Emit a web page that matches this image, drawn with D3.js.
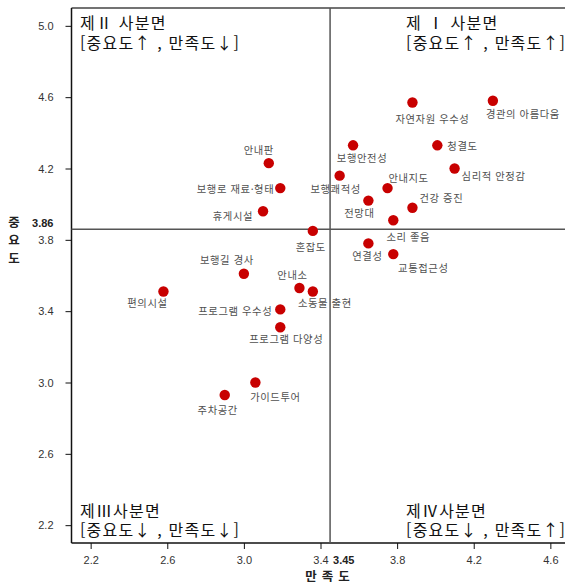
<!DOCTYPE html>
<html lang="ko">
<head>
<meta charset="utf-8">
<title>IPA 분석</title>
<script src="https://cdn.jsdelivr.net/npm/d3@7"></script>
<style>
    body { margin: 0; background: #fff; }
    .tick text { font-family: "Liberation Sans", Arial, sans-serif; font-size: 11px; fill: #333; }
    .lbl { font-family: "Noto Sans CJK KR", sans-serif; font-size: 10.3px; fill: #505050; letter-spacing: 0.6px; }
    .quad { font-family: "Noto Sans CJK KR", sans-serif; font-size: 16px; fill: #111; letter-spacing: 1.2px; }
    .ttl { font-family: "Noto Sans CJK KR", sans-serif; font-size: 12.5px; fill: #222; font-weight: bold; }
</style>
</head>
<body>
<svg></svg>
<script>
    // 항목별 만족도 / 중요도
    var items = ['자연자원 우수성', '경관의 아름다움', '청결도', '심리적 안정감', '안내지도', '건강 증진',
        '소리 좋음', '전망대', '보행안전성', '보행쾌적성', '안내판', '보행로 재료·형태', '휴게시설', '혼잡도',
        '연결성', '교통접근성', '보행길 경사', '편의시설', '안내소', '소동물 출현', '프로그램 우수성',
        '프로그램 다양성', '가이드투어', '주차공간'];
    var satisfaction = [3.88, 4.30, 4.01, 4.10, 3.75, 3.88, 3.78, 3.65, 3.57, 3.50, 3.13, 3.19, 3.10, 3.36,
        3.65, 3.78, 3.00, 2.58, 3.29, 3.36, 3.19, 3.19, 3.06, 2.90];
    var importance = [4.57, 4.58, 4.33, 4.20, 4.09, 3.98, 3.91, 4.02, 4.33, 4.16, 4.23, 4.09, 3.96, 3.85,
        3.78, 3.72, 3.61, 3.51, 3.53, 3.51, 3.41, 3.31, 3.00, 2.93];
    var meanX = 3.45, meanY = 3.86;
    var xTicks = [2.2, 2.6, 3.0, 3.4, 3.8, 4.2, 4.6];
    var yTicks = [2.2, 2.6, 3.0, 3.4, 3.8, 4.2, 4.6, 5.0];
    var quadrants = [
        {name: '제 Ⅰ 사분면', sub: '[중요도↑ , 만족도↑]'},
        {name: '제Ⅱ 사분면', sub: '[중요도↑ , 만족도↓]'},
        {name: '제Ⅲ사분면', sub: '[중요도↓ , 만족도↓]'},
        {name: '제Ⅳ사분면', sub: '[중요도↓ , 만족도↑]'}
    ];

    // label placement relative to the point: dx, dy (px), anchor
    var labelAt = [[20, 17, 'middle'], [30, 14, 'middle'], [10, 1, 'start'], [7, 8, 'start'], [21, -10, 'middle'],
        [7, -9, 'start'], [15, 17, 'middle'], [-9, 13, 'middle'], [9, 13, 'middle'], [-4, 14, 'middle'],
        [-10, -13, 'middle'], [-6, 1, 'end'], [-10, 5, 'end'], [-2, 16, 'middle'], [-1, 13, 'middle'],
        [30, 14, 'middle'], [-17, -13, 'middle'], [-16, 12, 'middle'], [-7, -13, 'middle'], [12, 12, 'middle'],
        [-8, 2, 'end'], [6, 12, 'middle'], [20, 15, 'middle'], [-7, 15, 'middle']];

    var W = 565, H = 585;
    var margin = {top: 8, left: 71.5};
    var plotW = 498, plotH = 535;

    var data = items.map(function (d, i) {
        return {name: d, x: satisfaction[i], y: importance[i], lab: labelAt[i]};
    });

    var x = d3.scaleLinear().domain([2.1, 4.7]).range([0, plotW]);
    var y = d3.scaleLinear().domain([2.1, 5.1]).range([plotH, 0]);

    var svg = d3.select('svg').attr('width', W).attr('height', H);
    var g = svg.append('g').attr('transform', 'translate(' + margin.left + ',' + margin.top + ')');

    // box (top border)
    g.append('line').attr('x1', 0).attr('x2', plotW).attr('y1', 0).attr('y2', 0)
        .attr('stroke', '#444').attr('stroke-width', 1.5);

    // axes
    var xAxis = g.append('g').attr('transform', 'translate(0,' + plotH + ')')
        .call(d3.axisBottom(x).tickValues(xTicks).tickFormat(d3.format('.1f')).tickSizeOuter(0).tickSize(6).tickPadding(7));
    var yAxis = g.append('g')
        .call(d3.axisLeft(y).tickValues(yTicks).tickFormat(d3.format('.1f')).tickSizeOuter(0).tickSize(6).tickPadding(12));
    [xAxis, yAxis].forEach(function (a) {
        a.select('.domain').attr('stroke', '#111').attr('stroke-width', 1.5);
        a.selectAll('.tick line').attr('stroke', '#111');
    });
    yAxis.select('.domain').attr('d', 'M0,0V' + plotH);
    xAxis.select('.domain').attr('d', 'M0,0H' + plotW);

    // mean lines
    g.append('line').attr('x1', x(meanX)).attr('x2', x(meanX)).attr('y1', 0).attr('y2', plotH)
        .attr('stroke', '#555').attr('stroke-width', 1.5);
    g.append('line').attr('x1', 0).attr('x2', plotW).attr('y1', y(meanY)).attr('y2', y(meanY))
        .attr('stroke', '#555').attr('stroke-width', 1.5);

    g.append('text').attr('x', x(meanX) + 3).attr('y', plotH + 13).attr('dy', '0.71em')
        .style('font-family', '"Liberation Sans", Arial, sans-serif').style('font-size', '11px')
        .style('font-weight', 'bold').attr('fill', '#222').text(meanX.toFixed(2));
    g.append('text').attr('x', -18).attr('y', y(meanY) - 6).attr('dy', '0.35em').attr('text-anchor', 'end')
        .style('font-family', '"Liberation Sans", Arial, sans-serif').style('font-size', '11px')
        .style('font-weight', 'bold').attr('fill', '#222').text(meanY.toFixed(2));

    // axis titles
    svg.append('text').attr('class', 'ttl').attr('x', margin.left + x(meanX)).attr('y', 577)
        .attr('dy', '0.35em').attr('text-anchor', 'middle').style('letter-spacing', '5px').text('만족도');
    svg.append('g').selectAll('text').data('중요도'.split('')).enter().append('text')
        .attr('class', 'ttl').attr('x', 14).attr('y', function (d, i) { return 223 + i * 18; })
        .attr('dy', '0.35em').attr('text-anchor', 'middle').text(function (d) { return d; });

    // quadrant titles
    var qPos = [[x(meanX) + 76, 15], [8.5, 15], [8.5, plotH - 32], [x(meanX) + 76, plotH - 32]];
    quadrants.forEach(function (q, i) {
        var t = g.append('text').attr('class', 'quad').attr('x', qPos[i][0]).attr('y', qPos[i][1]);
        t.append('tspan').attr('x', qPos[i][0]).attr('dy', '0.35em').text(q.name);
        t.append('tspan').attr('x', qPos[i][0]).attr('dy', i < 2 ? 20.5 : 19).text(q.sub);
    });

    // points
    g.selectAll('circle').data(data).enter().append('circle')
        .attr('cx', function (d) { return x(d.x); })
        .attr('cy', function (d) { return y(d.y); })
        .attr('r', 5.2)
        .attr('fill', '#c80000');

    g.selectAll('.lbl').data(data).enter().append('text')
        .attr('class', 'lbl')
        .attr('x', function (d) { return x(d.x) + d.lab[0]; })
        .attr('y', function (d) { return y(d.y) + d.lab[1]; })
        .attr('dy', '0.35em')
        .attr('text-anchor', function (d) { return d.lab[2]; })
        .text(function (d) { return d.name; });
</script>
</body>
</html>
